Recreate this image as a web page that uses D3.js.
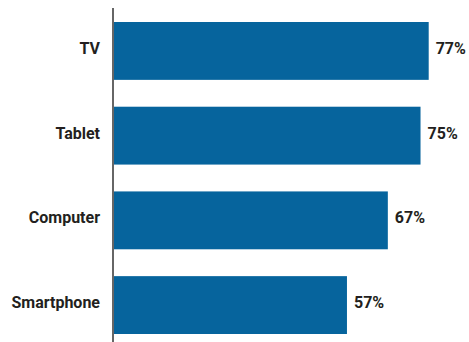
<!DOCTYPE html>
<html><head><meta charset="utf-8">
<script src="https://cdn.jsdelivr.net/npm/d3@7"></script>
<style>body{margin:0;background:#fff}svg{display:block}</style>
</head><body>
<script>
const categories = ["TV", "Tablet", "Computer", "Smartphone"];
const values = [77, 75, 67, 57];
const valueLabels = ["77%", "75%", "67%", "57%"];

const W = 469, H = 342;
const svg = d3.select("body").append("svg").attr("width", W).attr("height", H);
const x = d3.scaleLinear().domain([0, 100]).range([114, 522.7]);
const y = d3.scaleBand().domain(categories).range([22, 334]).paddingInner(0.317).paddingOuter(0);
const font = "Roboto, 'Open Sans', sans-serif";

svg.selectAll("rect.bar").data(categories).join("rect")
  .attr("class", "bar")
  .attr("x", x(0)).attr("y", d => y(d))
  .attr("width", (d, i) => x(values[i]) - x(0))
  .attr("height", y.bandwidth())
  .attr("fill", "#06649d");

svg.append("line").attr("x1", 113).attr("x2", 113).attr("y1", 8).attr("y2", H)
  .attr("stroke", "#333").attr("stroke-width", 1.5);

svg.selectAll("text.cat").data(categories).join("text")
  .attr("class", "cat")
  .attr("x", 100).attr("y", d => y(d) + y.bandwidth() / 2 - 2.7)
  .attr("dy", "0.35em").attr("text-anchor", "end")
  .attr("font-family", font).attr("font-weight", 700).attr("font-size", 16)
  .attr("fill", "#231f20").text(d => d);

svg.selectAll("text.val").data(categories).join("text")
  .attr("class", "val")
  .attr("x", (d, i) => x(values[i]) + 7).attr("y", d => y(d) + y.bandwidth() / 2 - 2.7)
  .attr("dy", "0.35em").attr("text-anchor", "start")
  .attr("font-family", font).attr("font-weight", 700).attr("font-size", 16)
  .attr("fill", "#231f20").text((d, i) => valueLabels[i]);
</script>
</body></html>
